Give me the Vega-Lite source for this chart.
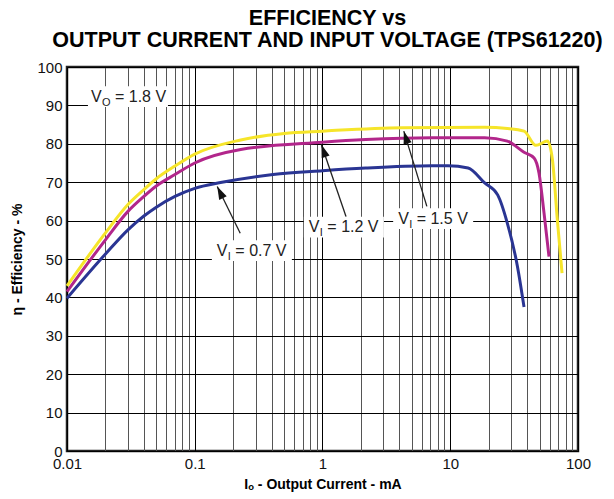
{
  "$schema": "https://vega.github.io/schema/vega-lite/v6.json",
  "width": 511,
  "height": 384,
  "autosize": {"type": "none"},
  "padding": {"left": 67, "top": 67, "right": 36, "bottom": 48},
  "background": "white",
  "title": {
    "text": ["EFFICIENCY vs", "OUTPUT CURRENT AND INPUT VOLTAGE (TPS61220)"],
    "font": "Liberation Sans",
    "fontSize": 21.5,
    "fontWeight": "bold",
    "color": "#000",
    "anchor": "middle",
    "lineHeight": 22,
    "offset": 9,
    "dx": 5
  },
  "config": {
    "view": {"stroke": "#222", "strokeWidth": 2.5},
    "font": "Liberation Sans"
  },
  "datasets": {
    "curves": [
      {"series": "VI = 0.7 V", "current": 0.01, "eff": 39.8},
      {"series": "VI = 0.7 V", "current": 0.02, "eff": 51.3},
      {"series": "VI = 0.7 V", "current": 0.03, "eff": 57.6},
      {"series": "VI = 0.7 V", "current": 0.04, "eff": 61.2},
      {"series": "VI = 0.7 V", "current": 0.05, "eff": 63.5},
      {"series": "VI = 0.7 V", "current": 0.07, "eff": 66.3},
      {"series": "VI = 0.7 V", "current": 0.1, "eff": 68.4},
      {"series": "VI = 0.7 V", "current": 0.159, "eff": 69.9},
      {"series": "VI = 0.7 V", "current": 0.41, "eff": 72},
      {"series": "VI = 0.7 V", "current": 1, "eff": 73},
      {"series": "VI = 0.7 V", "current": 2.18, "eff": 73.7},
      {"series": "VI = 0.7 V", "current": 7.2, "eff": 74.3},
      {"series": "VI = 0.7 V", "current": 9.6, "eff": 74.3},
      {"series": "VI = 0.7 V", "current": 13.8, "eff": 73.7},
      {"series": "VI = 0.7 V", "current": 18.6, "eff": 69.8},
      {"series": "VI = 0.7 V", "current": 23.5, "eff": 66.7},
      {"series": "VI = 0.7 V", "current": 28, "eff": 59.3},
      {"series": "VI = 0.7 V", "current": 33.6, "eff": 48},
      {"series": "VI = 0.7 V", "current": 37.8, "eff": 37.5},
      {"series": "VI = 1.2 V", "current": 0.01, "eff": 41.5},
      {"series": "VI = 1.2 V", "current": 0.02, "eff": 55},
      {"series": "VI = 1.2 V", "current": 0.03, "eff": 62.4},
      {"series": "VI = 1.2 V", "current": 0.04, "eff": 66.3},
      {"series": "VI = 1.2 V", "current": 0.05, "eff": 69},
      {"series": "VI = 1.2 V", "current": 0.07, "eff": 72},
      {"series": "VI = 1.2 V", "current": 0.1, "eff": 75},
      {"series": "VI = 1.2 V", "current": 0.229, "eff": 78.5},
      {"series": "VI = 1.2 V", "current": 1, "eff": 80.4},
      {"series": "VI = 1.2 V", "current": 2.18, "eff": 81.1},
      {"series": "VI = 1.2 V", "current": 7.2, "eff": 81.6},
      {"series": "VI = 1.2 V", "current": 18.6, "eff": 81.6},
      {"series": "VI = 1.2 V", "current": 28, "eff": 80.7},
      {"series": "VI = 1.2 V", "current": 37.8, "eff": 77.8},
      {"series": "VI = 1.2 V", "current": 45.3, "eff": 76.3},
      {"series": "VI = 1.2 V", "current": 49.5, "eff": 72.4},
      {"series": "VI = 1.2 V", "current": 54.2, "eff": 62},
      {"series": "VI = 1.2 V", "current": 59.3, "eff": 50.6},
      {"series": "VI = 1.5 V", "current": 0.01, "eff": 43},
      {"series": "VI = 1.5 V", "current": 0.02, "eff": 56.8},
      {"series": "VI = 1.5 V", "current": 0.03, "eff": 64.2},
      {"series": "VI = 1.5 V", "current": 0.04, "eff": 68.1},
      {"series": "VI = 1.5 V", "current": 0.05, "eff": 70.9},
      {"series": "VI = 1.5 V", "current": 0.07, "eff": 74.2},
      {"series": "VI = 1.5 V", "current": 0.1, "eff": 77.3},
      {"series": "VI = 1.5 V", "current": 0.229, "eff": 81},
      {"series": "VI = 1.5 V", "current": 0.5, "eff": 82.7},
      {"series": "VI = 1.5 V", "current": 1, "eff": 83.3},
      {"series": "VI = 1.5 V", "current": 4.2, "eff": 84.2},
      {"series": "VI = 1.5 V", "current": 18.6, "eff": 84.3},
      {"series": "VI = 1.5 V", "current": 28, "eff": 84},
      {"series": "VI = 1.5 V", "current": 37.8, "eff": 83.3},
      {"series": "VI = 1.5 V", "current": 46.8, "eff": 79.6},
      {"series": "VI = 1.5 V", "current": 57.7, "eff": 80.7},
      {"series": "VI = 1.5 V", "current": 63, "eff": 76},
      {"series": "VI = 1.5 V", "current": 69, "eff": 60},
      {"series": "VI = 1.5 V", "current": 75, "eff": 46.3}
    ],
    "labels": [
      {"label": "VO", "x": 0.03, "y": 92.3, "sub": "O", "rest": "= 1.8 V"},
      {"label": "0.7", "x": 0.28, "y": 52.2, "sub": "I", "rest": "= 0.7 V"},
      {"label": "1.2", "x": 1.47, "y": 58.3, "sub": "I", "rest": "= 1.2 V"},
      {"label": "1.5", "x": 7.35, "y": 60.5, "sub": "I", "rest": "= 1.5 V"}
    ],
    "arrows": [
      {"label": "0.7", "tailx": 0.227, "taily": 56.7, "tipx": 0.15, "tipy": 68.9},
      {"label": "1.2", "tailx": 1.53, "taily": 61, "tipx": 0.98, "tipy": 79.8},
      {"label": "1.5", "tailx": 6.56, "taily": 63.7, "tipx": 4.33, "tipy": 83.3}
    ]
  },
  "layer": [
    {
      "data": {"name": "curves"},
      "mark": {"type": "line", "strokeWidth": 3, "strokeJoin": "round", "interpolate": "monotone"},
      "encoding": {
        "x": {
          "field": "current",
          "type": "quantitative",
          "scale": {"type": "log", "domain": [0.01, 100]},
          "axis": {
            "values": [0.01, 0.02, 0.03, 0.04, 0.05, 0.06, 0.07, 0.08, 0.09, 0.1, 0.2, 0.3, 0.4, 0.5, 0.6, 0.7, 0.8, 0.9, 1, 2, 3, 4, 5, 6, 7, 8, 9, 10, 20, 30, 40, 50, 60, 70, 80, 90, 100],
            "tickCount": 50,
            "format": "~g",
            "labelExpr": "indexof([0.01, 0.1, 1, 10, 100], datum.value) >= 0 ? datum.label : ''",
            "labelOverlap": false,
            "labelFlush": false,
            "labelFontSize": 15,
            "labelColor": "#111",
            "labelPadding": 5,
            "ticks": false,
            "domain": false,
            "grid": true,
            "gridColor": {"condition": {"test": "indexof([0.01, 0.1, 1, 10, 100], datum.value) >= 0", "value": "#000"}, "value": "#555"},
            "gridWidth": 1,
            "gridOpacity": 1,
            "title": "Iₒ - Output Current - mA",
            "titleFontSize": 14,
            "titleFontWeight": "bold",
            "titleColor": "#000",
            "titlePadding": 6
          }
        },
        "y": {
          "field": "eff",
          "type": "quantitative",
          "scale": {"domain": [0, 100]},
          "axis": {
            "values": [0, 10, 20, 30, 40, 50, 60, 70, 80, 90, 100],
            "tickCount": 20,
            "labelOverlap": false,
            "labelFontSize": 15,
            "labelColor": "#111",
            "labelPadding": 5,
            "labelFlush": false,
            "ticks": false,
            "domain": false,
            "grid": true,
            "gridColor": "#000",
            "gridWidth": 1,
            "gridOpacity": 1,
            "title": "η - Efficiency - %",
            "titleFontSize": 14,
            "titleFontWeight": "bold",
            "titleColor": "#000",
            "titlePadding": 12
          }
        },
        "color": {
          "field": "series",
          "type": "nominal",
          "scale": {"domain": ["VI = 0.7 V", "VI = 1.2 V", "VI = 1.5 V"], "range": ["#2A3593", "#B2268B", "#F6E52A"]},
          "legend": null
        }
      }
    },
    {
      "data": {"name": "arrows"},
      "mark": {"type": "rule", "color": "#222", "strokeWidth": 1.3},
      "encoding": {
        "x": {"field": "tailx", "type": "quantitative"},
        "y": {"field": "taily", "type": "quantitative"},
        "x2": {"field": "tipx"},
        "y2": {"field": "tipy"}
      }
    },
    {
      "data": {"name": "arrows"},
      "transform": [{"filter": "datum.label == '0.7'"}],
      "mark": {"type": "point", "shape": "M0,0L0.32,1L-0.32,1Z", "filled": true, "color": "#111", "opacity": 1, "size": 676, "angle": 334},
      "encoding": {
        "x": {"field": "tipx", "type": "quantitative"},
        "y": {"field": "tipy", "type": "quantitative"}
      }
    },
    {
      "data": {"name": "arrows"},
      "transform": [{"filter": "datum.label == '1.2'"}],
      "mark": {"type": "point", "shape": "M0,0L0.32,1L-0.32,1Z", "filled": true, "color": "#111", "opacity": 1, "size": 676, "angle": 341},
      "encoding": {
        "x": {"field": "tipx", "type": "quantitative"},
        "y": {"field": "tipy", "type": "quantitative"}
      }
    },
    {
      "data": {"name": "arrows"},
      "transform": [{"filter": "datum.label == '1.5'"}],
      "mark": {"type": "point", "shape": "M0,0L0.32,1L-0.32,1Z", "filled": true, "color": "#111", "opacity": 1, "size": 676, "angle": 343},
      "encoding": {
        "x": {"field": "tipx", "type": "quantitative"},
        "y": {"field": "tipy", "type": "quantitative"}
      }
    },
    {
      "data": {"name": "labels"},
      "mark": {"type": "point", "shape": "M-1,-0.26H1V0.26H-1Z", "filled": true, "color": "white", "opacity": 1, "size": 6400, "strokeWidth": 0},
      "encoding": {
        "x": {"field": "x", "type": "quantitative"},
        "y": {"field": "y", "type": "quantitative"}
      }
    },
    {
      "data": {"name": "labels"},
      "transform": [{"filter": "datum.sub == 'I'"}],
      "mark": {"type": "text", "text": "V", "align": "left", "baseline": "middle", "fontSize": 16, "color": "#222", "dx": -35},
      "encoding": {
        "x": {"field": "x", "type": "quantitative"},
        "y": {"field": "y", "type": "quantitative"}
      }
    },
    {
      "data": {"name": "labels"},
      "transform": [{"filter": "datum.sub == 'I'"}],
      "mark": {"type": "text", "align": "left", "baseline": "middle", "fontSize": 11, "color": "#222", "dx": -24, "dy": 6},
      "encoding": {
        "x": {"field": "x", "type": "quantitative"},
        "y": {"field": "y", "type": "quantitative"},
        "text": {"field": "sub"}
      }
    },
    {
      "data": {"name": "labels"},
      "transform": [{"filter": "datum.sub == 'I'"}],
      "mark": {"type": "text", "align": "left", "baseline": "middle", "fontSize": 16, "color": "#222", "dx": -16.5},
      "encoding": {
        "x": {"field": "x", "type": "quantitative"},
        "y": {"field": "y", "type": "quantitative"},
        "text": {"field": "rest"}
      }
    },
    {
      "data": {"name": "labels"},
      "transform": [{"filter": "datum.sub == 'O'"}],
      "mark": {"type": "text", "text": "V", "align": "left", "baseline": "middle", "fontSize": 16, "color": "#222", "dx": -37},
      "encoding": {
        "x": {"field": "x", "type": "quantitative"},
        "y": {"field": "y", "type": "quantitative"}
      }
    },
    {
      "data": {"name": "labels"},
      "transform": [{"filter": "datum.sub == 'O'"}],
      "mark": {"type": "text", "align": "left", "baseline": "middle", "fontSize": 11, "color": "#222", "dx": -26, "dy": 6},
      "encoding": {
        "x": {"field": "x", "type": "quantitative"},
        "y": {"field": "y", "type": "quantitative"},
        "text": {"field": "sub"}
      }
    },
    {
      "data": {"name": "labels"},
      "transform": [{"filter": "datum.sub == 'O'"}],
      "mark": {"type": "text", "align": "left", "baseline": "middle", "fontSize": 16, "color": "#222", "dx": -13},
      "encoding": {
        "x": {"field": "x", "type": "quantitative"},
        "y": {"field": "y", "type": "quantitative"},
        "text": {"field": "rest"}
      }
    }
  ]
}
